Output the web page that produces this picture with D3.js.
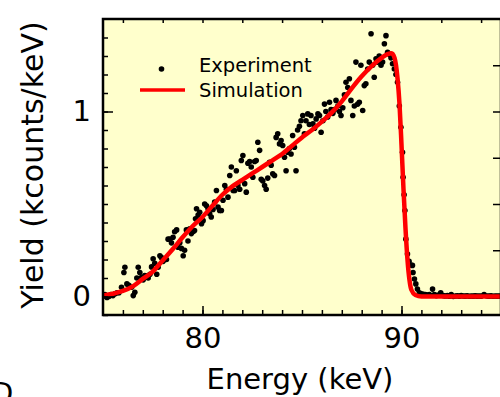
<!DOCTYPE html>
<html>
<head>
<meta charset="utf-8">
<script src="https://cdn.jsdelivr.net/npm/d3@7"></script>
<style>
  body { margin: 0; background: #fff; }
  svg { display: block; font-family: "DejaVu Sans", sans-serif; }
</style>
</head>
<body>
<svg width="500" height="397"></svg>
<script>
// measured spectrum (energy in keV, yield in kcounts/keV)
const expEnergy = [
    75.0, 75.1, 75.2, 75.3, 75.4, 75.5, 75.6, 75.7, 75.8, 75.93,
    76.05, 76.1, 76.2, 76.3, 76.44, 76.52, 76.6, 76.7, 76.77, 76.85,
    76.94, 77.02, 77.1, 77.19, 77.27, 77.36, 77.44, 77.52, 77.6, 77.7,
    77.77, 77.86, 77.94, 78.02, 78.1, 78.19, 78.27, 78.36, 78.44, 78.52,
    78.6, 78.7, 78.77, 78.86, 78.94, 79.03, 79.1, 79.19, 79.27, 79.36,
    79.44, 79.52, 79.6, 79.65, 79.7, 79.78, 79.86, 79.95, 80.03, 80.11,
    80.2, 80.28, 80.36, 80.44, 80.53, 80.61, 80.7, 80.78, 80.86, 80.95,
    81.03, 81.12, 81.2, 81.28, 81.37, 81.45, 81.54, 81.62, 81.7, 81.78,
    81.87, 81.95, 82.03, 82.12, 82.2, 82.28, 82.37, 82.45, 82.53, 82.62,
    82.7, 82.78, 82.87, 82.95, 83.03, 83.12, 83.2, 83.28, 83.37, 83.45,
    83.53, 83.62, 83.7, 83.78, 83.87, 83.95, 84.03, 84.12, 84.2, 84.28,
    84.37, 84.45, 84.53, 84.62, 84.7, 84.78, 84.87, 84.95, 85.04, 85.12,
    85.2, 85.29, 85.37, 85.45, 85.55, 85.63, 85.71, 85.8, 85.88, 85.96,
    86.05, 86.13, 86.2, 86.29, 86.38, 86.46, 86.55, 86.63, 86.71, 86.8,
    86.88, 86.96, 87.05, 87.13, 87.21, 87.3, 87.38, 87.46, 87.55, 87.63,
    87.71, 87.8, 87.88, 87.96, 88.05, 88.13, 88.21, 88.3, 88.38, 88.47,
    88.55, 88.63, 88.72, 88.8, 88.88, 88.97, 89.05, 89.14, 89.22, 89.3,
    89.39, 89.47, 89.55, 89.64, 89.72, 89.8, 89.89, 89.97, 90.05, 90.08,
    90.13, 90.17, 90.22, 90.3, 90.38, 90.47, 90.55, 90.58, 90.65, 90.72,
    90.8, 90.9, 91.0, 91.1, 91.2, 91.3, 91.4, 91.56, 91.65, 91.75,
    91.85, 91.97, 92.1, 92.2, 92.3, 92.4, 92.5, 92.6, 92.7, 92.8,
    92.9, 93.0, 93.1, 93.2, 93.3, 93.4, 93.5, 93.6, 93.7, 93.8,
    93.9, 94.0, 94.15, 94.3, 94.4, 94.5, 94.6, 94.7, 94.8, 94.9
];
const expYield = [
    0.0, 0.01, -0.005, 0.0, 0.01, 0.005, 0.015, 0.02, 0.02, 0.05,
    0.13, 0.158, 0.068, 0.06, 0.05, 0.005, 0.023, 0.1, 0.158, 0.13,
    0.104, 0.09, 0.113, 0.11, 0.1, 0.12, 0.16, 0.204, 0.18, 0.12,
    0.158, 0.22, 0.21, 0.19, 0.2, 0.2, 0.31, 0.31, 0.29, 0.32,
    0.35, 0.36, 0.266, 0.29, 0.26, 0.22, 0.25, 0.36, 0.3, 0.366,
    0.34, 0.35, 0.357, 0.42, 0.474, 0.44, 0.455, 0.393, 0.41, 0.5,
    0.49, 0.474, 0.447, 0.43, 0.47, 0.51, 0.573, 0.483, 0.465, 0.465,
    0.52, 0.6, 0.58, 0.537, 0.654, 0.7, 0.573, 0.573, 0.68, 0.6,
    0.58, 0.735, 0.762, 0.61, 0.564, 0.72, 0.73, 0.7, 0.645, 0.73,
    0.735, 0.834, 0.79, 0.634, 0.625, 0.6, 0.58, 0.64, 0.726, 0.71,
    0.663, 0.654, 0.86, 0.88, 0.825, 0.843, 0.816, 0.753, 0.68, 0.78,
    0.8, 0.77, 0.87, 0.807, 0.68, 0.9, 0.92, 0.95, 0.978, 0.88,
    0.95, 0.987, 0.93, 0.978, 0.933, 0.91, 0.96, 0.987, 0.978, 0.888,
    0.95, 1.04, 1.0, 0.97, 1.05, 1.01, 0.99, 1.01, 1.06, 1.03,
    1.0, 0.978, 1.02, 1.09, 1.158, 1.13, 1.177, 1.06, 0.978, 1.03,
    1.267, 1.04, 1.05, 1.25, 1.005, 1.14, 1.15, 1.23, 1.267, 1.42,
    1.25, 1.185, 1.285, 1.267, 1.3, 1.25, 1.267, 1.366, 1.41, 1.32,
    1.31, 1.29, 1.258, 1.23, 1.2, 1.158, 1.03, 0.915, 0.78, 0.645,
    0.55, 0.465, 0.31, 0.23, 0.19, 0.17, 0.168, 0.13, 0.094, 0.068,
    0.04, 0.02, 0.015, 0.012, 0.01, 0.008, 0.01, 0.04, 0.01, 0.005,
    0.008, 0.02, 0.005, 0.003, 0.005, 0.002, 0.01, 0.0, 0.003, 0.004,
    0.002, 0.005, 0.003, 0.002, 0.004, 0.001, 0.003, 0.002, 0.004, 0.002,
    0.003, 0.002, 0.01, 0.003, 0.002, 0.004, 0.001, 0.003, 0.002, 0.003
];

// simulated spectrum
const simEnergy = [
    75.0, 75.5, 76.0, 76.5, 77.0, 77.5, 78.0, 78.5, 79.0, 79.5,
    80.0, 80.5, 81.0, 81.5, 82.0, 82.5, 83.0, 83.5, 84.0, 84.5,
    85.0, 85.5, 86.0, 86.5, 87.0, 87.5, 88.0, 88.5, 89.0, 89.3,
    89.5, 89.65, 89.8, 89.9, 90.0, 90.1, 90.2, 90.3, 90.4, 90.5,
    90.7, 91.0, 92.0, 93.0, 94.0, 95.0
];
const simYield = [
    0.005, 0.015, 0.03, 0.055, 0.095, 0.135, 0.195, 0.255, 0.32, 0.38,
    0.43, 0.49, 0.55, 0.595, 0.63, 0.665, 0.7, 0.735, 0.77, 0.815,
    0.86, 0.9, 0.945, 0.995, 1.055, 1.125, 1.19, 1.245, 1.29, 1.31,
    1.315, 1.29, 1.18, 1.04, 0.82, 0.58, 0.37, 0.2, 0.09, 0.035,
    0.008, 0.0, 0.0, 0.0, 0.0, 0.0
];

const xTickLabels = [80, 90];
const yTickLabels = [0, 1];
const legendLabels = ['Experiment', 'Simulation'];

const expData = expEnergy.map((e, i) => ({ e: e, y: expYield[i] }));
const simData = simEnergy.map((e, i) => ({ e: e, y: simYield[i] }));

const plot = { left: 103, right: 501, top: 19, bottom: 315 };

const svg = d3.select('svg');

const xScale = d3.scaleLinear()
    .domain([75, 95])
    .range([plot.left, plot.right]);

const yScale = d3.scaleLinear()
    .domain([-0.1, 1.5])
    .range([plot.bottom, plot.top]);

svg.append('rect')
    .attr('x', plot.left)
    .attr('y', plot.top)
    .attr('width', plot.right - plot.left)
    .attr('height', plot.bottom - plot.top)
    .attr('fill', '#ffffcc');

svg.append('clipPath')
    .attr('id', 'clip')
    .append('rect')
    .attr('x', plot.left)
    .attr('y', plot.top)
    .attr('width', plot.right - plot.left)
    .attr('height', plot.bottom - plot.top);

const inner = svg.append('g').attr('clip-path', 'url(#clip)');

inner.selectAll('.dot')
    .data(expData)
    .enter().append('circle')
    .attr('class', 'dot')
    .attr('cx', d => xScale(d.e))
    .attr('cy', d => yScale(d.y))
    .attr('r', 2.8)
    .attr('fill', '#000');

const line = d3.line()
    .x(d => xScale(d.e))
    .y(d => yScale(d.y))
    .curve(d3.curveMonotoneX);

inner.append('path')
    .datum(simData)
    .attr('fill', 'none')
    .attr('stroke', '#ff0000')
    .attr('stroke-width', 4.5)
    .attr('stroke-linejoin', 'round')
    .attr('d', line);

// axes, all ticks pointing inwards
function styleAxis(g) {
    g.select('.domain').remove();
    g.selectAll('.tick line').attr('stroke', '#000').attr('stroke-width', 1.5);
    g.selectAll('.tick text').attr('fill', '#000').attr('font-size', '29px')
        .attr('font-family', '"DejaVu Sans", sans-serif');
}

svg.append('g')
    .attr('transform', `translate(0, ${plot.bottom})`)
    .call(d3.axisBottom(xScale).tickValues(d3.range(76, 95, 1)).tickSize(-5).tickFormat(''))
    .call(styleAxis);

svg.append('g')
    .attr('transform', `translate(0, ${plot.bottom})`)
    .call(d3.axisBottom(xScale).tickValues(xTickLabels).tickSize(-9).tickPadding(12).tickFormat(d3.format('d')))
    .call(styleAxis);

svg.append('g')
    .attr('transform', `translate(0, ${plot.top})`)
    .call(d3.axisTop(xScale).tickValues(d3.range(76, 95, 2)).tickSize(-4).tickFormat(''))
    .call(styleAxis);

svg.append('g')
    .attr('transform', `translate(${plot.left}, 0)`)
    .call(d3.axisLeft(yScale).tickValues(d3.range(-1, 15).map(d => d / 10)).tickSize(-5).tickFormat(''))
    .call(styleAxis);

svg.append('g')
    .attr('transform', `translate(${plot.left}, 0)`)
    .call(d3.axisLeft(yScale).tickValues(yTickLabels).tickSize(-10).tickPadding(12).tickFormat(d3.format('d')))
    .call(styleAxis);

svg.append('g')
    .attr('transform', `translate(${plot.right}, 0)`)
    .call(d3.axisRight(yScale).tickValues([0.25, 0.5, 0.75, 1, 1.25]).tickSize(-8).tickFormat(''))
    .call(styleAxis);

svg.append('rect')
    .attr('x', plot.left)
    .attr('y', plot.top)
    .attr('width', plot.right - plot.left)
    .attr('height', plot.bottom - plot.top)
    .attr('fill', 'none')
    .attr('stroke', '#000')
    .attr('stroke-width', 2.5);

// axis titles
svg.append('text')
    .attr('x', 300)
    .attr('y', 389)
    .attr('text-anchor', 'middle')
    .attr('font-size', '29px')
    .attr('fill', '#000')
    .text('Energy (keV)');

svg.append('text')
    .attr('transform', 'translate(43, 165) rotate(-90)')
    .attr('text-anchor', 'middle')
    .attr('font-size', '30px')
    .attr('fill', '#000')
    .text('Yield (kcounts/keV)');

// legend
const legend = svg.append('g');
legend.append('circle')
    .attr('cx', 161.5)
    .attr('cy', 69)
    .attr('r', 2.8)
    .attr('fill', '#000');
legend.append('line')
    .attr('x1', 140).attr('x2', 185)
    .attr('y1', 90).attr('y2', 90)
    .attr('stroke', '#ff0000')
    .attr('stroke-width', 3.5);
legend.selectAll('.leg')
    .data(legendLabels)
    .enter().append('text')
    .attr('class', 'leg')
    .attr('x', 199)
    .attr('y', (d, i) => 72 + i * 25)
    .attr('font-size', '19.5px')
    .attr('fill', '#000')
    .text(d => d);

// piece of the next panel's label, cut by the frame
svg.append('text')
    .attr('x', -9)
    .attr('y', 403)
    .attr('font-size', '29px')
    .attr('fill', '#000')
    .text('D');
</script>
</body>
</html>
